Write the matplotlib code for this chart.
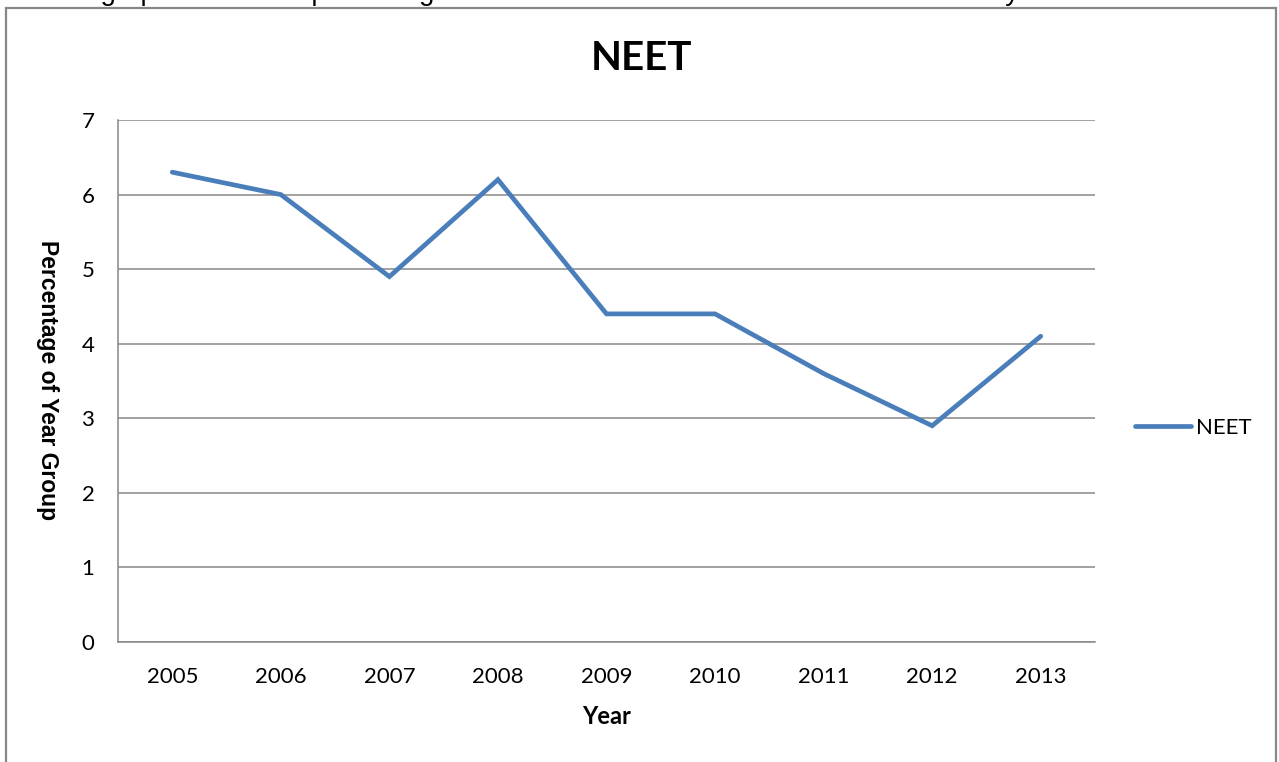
import matplotlib.pyplot as plt
from matplotlib.patches import Rectangle

# data
years = ["2005", "2006", "2007", "2008", "2009", "2010", "2011", "2012", "2013"]
neet = [6.3, 6.0, 4.9, 6.2, 4.4, 4.4, 3.6, 2.9, 4.1]
y_ticks = [0, 1, 2, 3, 4, 5, 6, 7]

W, H = 1279, 762
line_col = "#4A7EBB"
grid_col = "#888888"
font = "Lato"

fig = plt.figure(figsize=(W / 100, H / 100), dpi=100)

# caption of the document, cut off at the top edge as in the reference
fig.text(45 / W, 1 - 0.5 / H,
         "The graph shows the percentage of Year 11 students who were NEET in each year",
         family="Liberation Sans", fontsize=20, va="baseline", ha="left")

# chart frame
fig.patches.append(Rectangle((6 / W, -0.1), 1270 / W, 1.1 - 8 / H,
                             transform=fig.transFigure, fill=False,
                             edgecolor="#878787", linewidth=1.6))

ax = fig.add_axes([118 / W, 1 - 642 / H, (1095 - 118) / W, (642 - 120) / H])
x = list(range(len(years)))
ax.plot(x, neet, color=line_col, linewidth=3.4, solid_joinstyle="miter",
        solid_capstyle="round", label="NEET")

ax.set_xlim(-0.5, len(years) - 0.5)
ax.set_ylim(0, 7)
ax.set_yticks(y_ticks)
ax.set_xticks(x)
ax.set_xticklabels(years)
ax.yaxis.grid(True, color=grid_col, linewidth=1.1)
ax.set_axisbelow(True)
for s in ["top", "right"]:
    ax.spines[s].set_visible(False)
for s in ["left", "bottom"]:
    ax.spines[s].set_color(grid_col)
    ax.spines[s].set_linewidth(1.1)
ax.tick_params(axis="both", length=0, labelsize=16)
ax.tick_params(axis="y", pad=17)
ax.tick_params(axis="x", pad=18)
for lab in ax.get_xticklabels() + ax.get_yticklabels():
    lab.set_family(font)

ax.set_xlabel("Year", family=font, fontsize=17, fontweight="bold", va="center")
ax.xaxis.set_label_coords(0.5, (642 - 717) / 522)
ax.set_ylabel("Percentage of Year Group", family="Liberation Sans", fontsize=16.5,
              fontweight="bold", rotation=-90, va="center")
ax.yaxis.set_label_coords((47 - 118) / 977, (642 - 380) / 522)

fig.text(641 / W, 1 - 58 / H, "NEET", family=font, fontsize=29,
         fontweight="bold", ha="center", va="center")

leg = ax.legend(loc="center left", bbox_to_anchor=(1135 / W, 1 - 428 / H),
                bbox_transform=fig.transFigure, frameon=False, borderpad=0,
                borderaxespad=0, handlelength=2.5, handletextpad=0.25,
                prop={"family": font, "size": 16})

fig.savefig("out.png", dpi=100)
